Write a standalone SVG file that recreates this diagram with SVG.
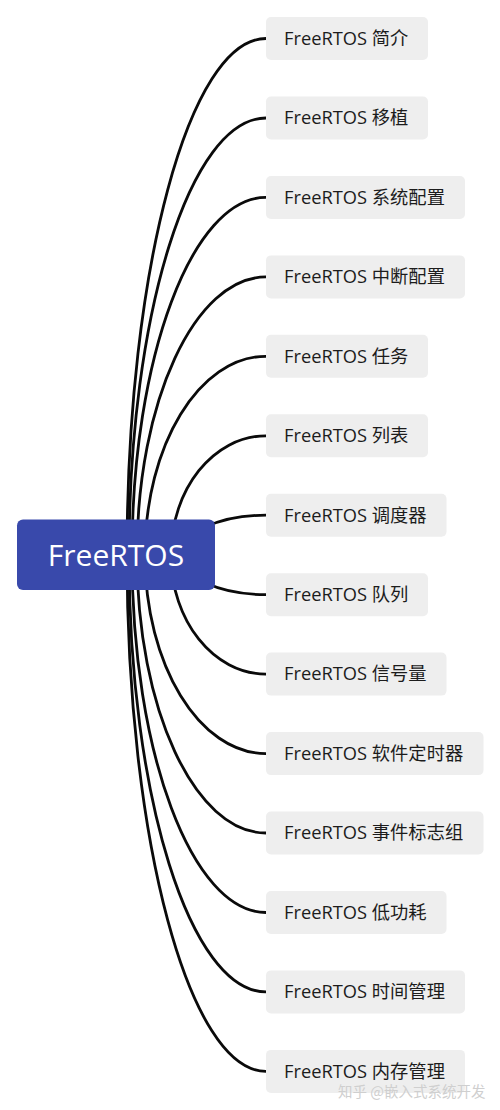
<svg xmlns="http://www.w3.org/2000/svg" width="500" height="1110" viewBox="0 0 500 1110">
<style>
.c{fill:none;stroke:#0a0a0a;stroke-width:2.8;stroke-linecap:round}
.leaf rect{fill:#EEEEEE}
.leaf text{font-family:"Open Sans","Noto Sans CJK SC",sans-serif;font-size:18.3px;fill:#1c1c1c}
.root rect{fill:#3949AB}
.root text{font-family:"Open Sans","Noto Sans CJK SC",sans-serif;font-size:30px;fill:#fff;text-anchor:middle}
.wm{font-family:"Noto Sans CJK SC",sans-serif;font-size:14.5px;fill:#cfcfcf}
</style>
<rect width="500" height="1110" fill="#fff"/>
<g id="connectors">
<path class="c" d="M127,555 C127,269.7 189.2,38.5 266,38.5"/>
<path class="c" d="M129,555 C129,313.6 190.3,118 266,118"/>
<path class="c" d="M132,555 C132,357.5 192,197.4 266,197.4"/>
<path class="c" d="M137,555 C137,401.4 194.8,276.9 266,276.9"/>
<path class="c" d="M145,555 C145,445.3 199.2,356.3 266,356.3"/>
<path class="c" d="M171,555 C171,489.2 213.5,435.8 266,435.8"/>
<path class="c" d="M181,555 C181,533 219.1,515.2 266,515.2"/>
<path class="c" d="M181,555 C181,577 219.1,594.7 266,594.7"/>
<path class="c" d="M171,555 C171,620.8 213.5,674.1 266,674.1"/>
<path class="c" d="M145,555 C145,664.7 199.2,753.6 266,753.6"/>
<path class="c" d="M137,555 C137,708.6 194.8,833 266,833"/>
<path class="c" d="M132,555 C132,752.5 192,912.5 266,912.5"/>
<path class="c" d="M129,555 C129,796.4 190.3,991.9 266,991.9"/>
<path class="c" d="M127,555 C127,840.3 189.2,1071.4 266,1071.4"/>
</g>
<g id="root" class="root">
<rect x="17" y="519.5" width="198" height="70.5" rx="6"/>
<text x="116" y="565.5">FreeRTOS</text>
</g>
<g id="n1" class="leaf"><rect x="266" y="17" width="162" height="43" rx="5"/><text x="284" y="44.8">FreeRTOS 简介</text></g>
<g id="n2" class="leaf"><rect x="266" y="96.5" width="162" height="43" rx="5"/><text x="284" y="124.3">FreeRTOS 移植</text></g>
<g id="n3" class="leaf"><rect x="266" y="176" width="199" height="43" rx="5"/><text x="284" y="203.7">FreeRTOS 系统配置</text></g>
<g id="n4" class="leaf"><rect x="266" y="255.4" width="199" height="43" rx="5"/><text x="284" y="283.2">FreeRTOS 中断配置</text></g>
<g id="n5" class="leaf"><rect x="266" y="334.8" width="162" height="43" rx="5"/><text x="284" y="362.6">FreeRTOS 任务</text></g>
<g id="n6" class="leaf"><rect x="266" y="414.3" width="162" height="43" rx="5"/><text x="284" y="442.1">FreeRTOS 列表</text></g>
<g id="n7" class="leaf"><rect x="266" y="493.7" width="180.5" height="43" rx="5"/><text x="284" y="521.5">FreeRTOS 调度器</text></g>
<g id="n8" class="leaf"><rect x="266" y="573.2" width="162" height="43" rx="5"/><text x="284" y="601">FreeRTOS 队列</text></g>
<g id="n9" class="leaf"><rect x="266" y="652.6" width="180.5" height="43" rx="5"/><text x="284" y="680.4">FreeRTOS 信号量</text></g>
<g id="n10" class="leaf"><rect x="266" y="732.1" width="217.5" height="43" rx="5"/><text x="284" y="759.9">FreeRTOS 软件定时器</text></g>
<g id="n11" class="leaf"><rect x="266" y="811.5" width="217.5" height="43" rx="5"/><text x="284" y="839.3">FreeRTOS 事件标志组</text></g>
<g id="n12" class="leaf"><rect x="266" y="891" width="180.5" height="43" rx="5"/><text x="284" y="918.8">FreeRTOS 低功耗</text></g>
<g id="n13" class="leaf"><rect x="266" y="970.4" width="199" height="43" rx="5"/><text x="284" y="998.2">FreeRTOS 时间管理</text></g>
<g id="n14" class="leaf"><rect x="266" y="1049.9" width="199" height="43" rx="5"/><text x="284" y="1077.7">FreeRTOS 内存管理</text></g>
<text class="wm" x="338" y="1097">知乎 @嵌入式系统开发</text>
</svg>
